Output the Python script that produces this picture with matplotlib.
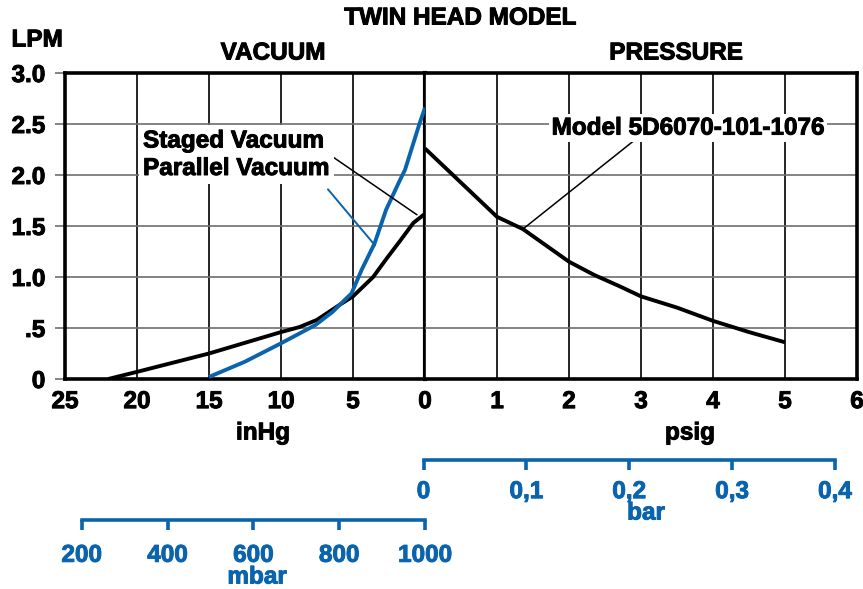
#!/usr/bin/env python3
# -*- coding: utf-8 -*-
"""Twin head model flow curve: vacuum (inHg) on the left, pressure (psig) on the right."""
import numpy as np
import matplotlib
matplotlib.use("Agg")
import matplotlib.pyplot as plt
import matplotlib.patheffects as pe

plt.rcParams["font.family"] = ["Liberation Sans", "DejaVu Sans"]
plt.rcParams["font.weight"] = "bold"

# ---------------------------------------------------------------------------
# data
# ---------------------------------------------------------------------------
staged_inhg = [22.0, 20.0, 15.0, 10.0, 8.7, 7.5, 5.9, 5.0, 3.6, 2.67, 1.7, 0.81, 0.0]
staged_lpm = [0.0, 0.07, 0.25, 0.46, 0.51, 0.58, 0.73, 0.81, 1.0, 1.18, 1.36, 1.53, 1.62]

parallel_inhg = [15.0, 12.5, 10.0, 7.6, 6.4, 5.9, 5.1, 4.4, 3.5, 2.7, 1.74, 1.39, 0.39, 0.0]
parallel_lpm = [0.02, 0.17, 0.35, 0.53, 0.66, 0.73, 0.84, 1.07, 1.33, 1.66, 1.95, 2.05, 2.5, 2.66]

press_psig = [0.0, 1.0, 1.36, 2.0, 2.35, 2.7, 3.0, 3.5, 4.0, 4.5, 5.0]
press_lpm = [2.26, 1.59, 1.47, 1.15, 1.02, 0.91, 0.81, 0.70, 0.57, 0.46, 0.36]

y_ticks = [0, 0.5, 1.0, 1.5, 2.0, 2.5, 3.0]
y_labels = ["0", ".5", "1.0", "1.5", "2.0", "2.5", "3.0"]
vac_ticks = [25, 20, 15, 10, 5, 0]
press_ticks = [0, 1, 2, 3, 4, 5, 6]
press_labels = ["", "1", "2", "3", "4", "5", "6"]
bar_ticks = [0, 0.1, 0.2, 0.3, 0.4]
bar_labels = ["0", "0,1", "0,2", "0,3", "0,4"]
mbar_ticks = [200, 400, 600, 800, 1000]

BLUE = "#0A64AD"
GRAY = "#6e6e6e"
FS = 17.5
W, H = 863, 589


def fx(x):
    return x / W


def fy(y):
    return 1 - y / H


def heavy(t, color="black"):
    # thicken glyphs a bit, the source font is heavier than Liberation bold
    t.set_path_effects([pe.withStroke(linewidth=0.7, foreground=color)])
    return t


fig = plt.figure(figsize=(W / 100, H / 100), dpi=100)
axl = fig.add_axes([fx(65), fy(379), fx(360), (379 - 73) / H])
axr = fig.add_axes([fx(425), fy(379), fx(432), (379 - 73) / H])

for ax in (axl, axr):
    ax.set_ylim(0, 3.0)
    ax.set_yticks(y_ticks)
    ax.xaxis.grid(True, color="black", lw=1.2, zorder=0)
    ax.yaxis.grid(True, color=GRAY, lw=1.2, zorder=0)
    ax.set_axisbelow(True)
    for s in ax.spines.values():
        s.set_linewidth(2.6)
    ax.tick_params(axis="x", length=0, pad=8, labelsize=FS)

axl.set_xlim(25, 0)
axl.set_xticks(vac_ticks)
axl.set_xticklabels([str(t) for t in vac_ticks])
axl.set_yticklabels(y_labels)
axl.tick_params(axis="y", length=7.2, width=1.2, color=GRAY, pad=7, labelsize=FS)
axl.spines["right"].set_linewidth(3.0)

axr.set_xlim(0, 6)
axr.set_xticks(press_ticks)
axr.set_xticklabels(press_labels)
axr.tick_params(axis="y", length=0, labelleft=False)
axr.spines["left"].set_visible(False)

for lab in axl.get_xticklabels() + axl.get_yticklabels() + axr.get_xticklabels():
    heavy(lab)

# curves
axl.plot(staged_inhg, staged_lpm, color="black", lw=2.8, solid_capstyle="butt",
         solid_joinstyle="round", zorder=3)
axl.plot(parallel_inhg, parallel_lpm, color=BLUE, lw=2.8, solid_capstyle="butt",
         solid_joinstyle="round", zorder=3)
axr.plot(press_psig, press_lpm, color="black", lw=2.8, solid_capstyle="butt",
         solid_joinstyle="round", zorder=3)

# callouts
box = dict(fc="white", ec="none", pad=3)
heavy(axl.text(19.58, 2.27, "Staged Vacuum", fontsize=FS, ha="left", va="baseline",
               bbox=box, zorder=5))
heavy(axl.text(19.58, 2.0, "Parallel Vacuum", fontsize=FS, ha="left", va="baseline",
               bbox=box, zorder=5))
axl.annotate("", xy=(0.56, 1.61), xytext=(7.15, 2.25),
             arrowprops=dict(arrowstyle="-", color="black", lw=1.1,
                             shrinkA=0, shrinkB=0), zorder=4)
axl.annotate("", xy=(3.47, 1.31), xytext=(6.74, 1.86),
             arrowprops=dict(arrowstyle="-", color=BLUE, lw=1.4,
                             shrinkA=0, shrinkB=0), zorder=4)

heavy(axr.text(3.65, 2.46, "Model 5D6070-101-1076", fontsize=FS, ha="center", va="center",
               bbox=dict(fc="white", ec="none", pad=2), zorder=5))
axr.annotate("", xy=(1.36, 1.47), xytext=(2.89, 2.33),
             arrowprops=dict(arrowstyle="-", color="black", lw=1.1,
                             shrinkA=0, shrinkB=0), zorder=4)

# titles and unit labels
for x, y, s in [(460, 18, "TWIN HEAD MODEL"), (37, 40, "LPM"), (273, 53, "VACUUM"),
                (676, 53, "PRESSURE"), (263, 433, "inHg"), (690, 433, "psig")]:
    heavy(fig.text(fx(x), fy(y), s, fontsize=FS, ha="center", va="center"))


# blue conversion scales
def scale_axis(x0, x1, y, lim, ticks, labels, pad):
    a = fig.add_axes([fx(x0), fy(y), fx(x1 - x0), 1e-4])
    a.patch.set_visible(False)
    for k in ("left", "right", "top"):
        a.spines[k].set_visible(False)
    a.spines["bottom"].set_color(BLUE)
    a.spines["bottom"].set_linewidth(2.6)
    a.set_xlim(*lim)
    a.set_xticks(ticks)
    a.set_xticklabels(labels)
    a.set_yticks([])
    a.tick_params(axis="x", direction="out", length=7.5, width=2.6, color=BLUE,
                  labelcolor=BLUE, labelsize=FS, pad=pad)
    for lab in a.get_xticklabels():
        heavy(lab, BLUE)
    return a


scale_axis(423.5, 835, 460, (0, 0.4), bar_ticks, bar_labels, 7)
scale_axis(81.7, 425, 519.5, (200, 1000), mbar_ticks, [str(t) for t in mbar_ticks], 10)
heavy(fig.text(fx(646), fy(513), "bar", fontsize=FS, ha="center", va="center", color=BLUE), BLUE)
heavy(fig.text(fx(257), fy(577), "mbar", fontsize=FS, ha="center", va="center", color=BLUE), BLUE)

fig.savefig("out.png", dpi=100)
print("wrote out.png")
